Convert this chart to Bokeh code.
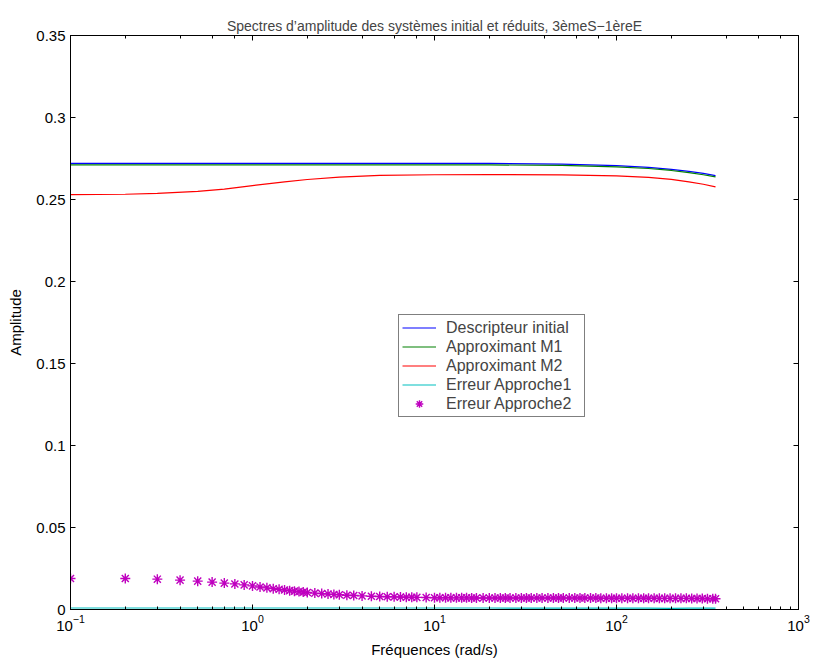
from bokeh.plotting import figure
from bokeh.models import (LinearAxis, LogAxis, FixedTicker, Legend, LegendItem,
                          Range1d, LogTicker)
from bokeh.embed import file_html
from bokeh.resources import INLINE

FONT = "Liberation Sans"

# Amplitude spectra sampled at a few frequencies (rad/s)
freq = [0.1, 0.2, 0.3, 0.5, 0.7, 1.0, 1.5, 2, 3, 5, 10, 20, 50, 100, 150, 200, 250, 300, 350]
descripteur = [0.2720, 0.2720, 0.2720, 0.2720, 0.2720, 0.2720, 0.2720, 0.2720, 0.2720, 0.2720,
               0.2720, 0.2720, 0.2716, 0.2707, 0.2696, 0.2684, 0.2672, 0.2659, 0.2646]
approx_m1 = [0.2711, 0.2711, 0.2711, 0.2711, 0.2711, 0.2711, 0.2711, 0.2711, 0.2711, 0.2711,
             0.2711, 0.2711, 0.2708, 0.2699, 0.2689, 0.2677, 0.2664, 0.2651, 0.2638]
approx_m2 = [0.2530, 0.2532, 0.2537, 0.2550, 0.2563, 0.2585, 0.2608, 0.2622, 0.2637, 0.2647,
             0.2651, 0.2652, 0.2650, 0.2644, 0.2635, 0.2623, 0.2608, 0.2593, 0.2577]
erreur1 = [0.0009, 0.0009, 0.0009, 0.0009, 0.0009, 0.0009, 0.0009, 0.0009, 0.0009, 0.0009,
           0.0009, 0.0009, 0.0008, 0.0008, 0.0008, 0.0007, 0.0008, 0.0008, 0.0008]

# Error of the second approach, shown as markers
err2_freq = [0.1, 0.2, 0.3, 0.4, 0.5, 0.6, 0.7, 0.8, 0.9, 1.0,
             1.1, 1.2, 1.3, 1.4, 1.5, 1.6, 1.7, 1.8, 1.9, 2.0,
             2.2, 2.4, 2.6, 2.8, 3.0, 3.3, 3.6, 4.0, 4.5, 5.0, 5.5, 6.0, 6.5, 7.0, 7.5, 8.0, 9.0,
             10, 10.7, 11.5, 12.3, 13.2, 14.1, 15, 16, 17, 18.5, 20, 21.5, 23, 24.5, 26, 28,
             30, 32, 34, 36.5, 39, 42, 45, 48, 51, 55, 59, 63, 67, 72, 77, 82, 88, 94,
             100, 107, 115, 123, 132, 141, 150, 161, 172, 184, 197, 211, 226, 242, 259,
             277, 296, 316, 338, 350]
erreur2 = [0.0189, 0.0189, 0.0185, 0.0179, 0.0173, 0.0167, 0.0161, 0.0156, 0.0150, 0.0144,
           0.0137, 0.0132, 0.0127, 0.0123, 0.0119, 0.0115, 0.0112, 0.0109, 0.0106, 0.0104,
           0.0100, 0.0097, 0.0094, 0.0092, 0.0090, 0.0087, 0.0085, 0.0083, 0.0081, 0.0079,
           0.0078, 0.0077, 0.0076, 0.0075, 0.0075, 0.0074, 0.0073,
           0.0072, 0.0072, 0.0072, 0.0071, 0.0071, 0.0071, 0.0071, 0.0070, 0.0070, 0.0070,
           0.0070, 0.0070, 0.0070, 0.0070, 0.0070, 0.0070,
           0.0070, 0.0070, 0.0070, 0.0070, 0.0070, 0.0070, 0.0070, 0.0070, 0.0070, 0.0070,
           0.0070, 0.0070, 0.0070, 0.0070, 0.0070, 0.0069, 0.0069, 0.0069,
           0.0069, 0.0069, 0.0069, 0.0069, 0.0069, 0.0069, 0.0069, 0.0069, 0.0068, 0.0068,
           0.0068, 0.0068, 0.0068, 0.0068, 0.0067,
           0.0067, 0.0067, 0.0066, 0.0066, 0.0066]

y_ticks = [0, 0.05, 0.1, 0.15, 0.2, 0.25, 0.3, 0.35]
y_tick_labels = ["0", "0.05", "0.1", "0.15", "0.2", "0.25", "0.3", "0.35"]

p = figure(width=813, height=662, x_axis_type="log",
           x_range=Range1d(0.1, 1000), y_range=Range1d(0, 0.35),
           frame_width=728, frame_height=574,
           min_border_left=70, min_border_right=15, min_border_top=35, min_border_bottom=53,
           output_backend="svg", toolbar_location=None,
           title="Spectres d\u2019amplitude des syst\u00e8mes initial et r\u00e9duits, 3\u00e8meS\u22121\u00e8reE")

p.title.text_font = FONT
p.title.text_font_size = "14px"
p.title.text_font_style = "normal"
p.title.align = "center"
p.title.standoff = 4

p.background_fill_color = "white"
p.border_fill_color = "white"
p.outline_line_color = "black"
p.outline_line_width = 1
p.xgrid.visible = False
p.ygrid.visible = False

# Bottom / left axes
xa = p.xaxis[0]
xa.axis_label = "Fr\u00e9quences (rad/s)"
ya = p.yaxis[0]
ya.axis_label = "Amplitude"
ya.ticker = FixedTicker(ticks=y_ticks)
ya.major_label_overrides = {t: s for t, s in zip(y_ticks, y_tick_labels)}

for ax in (xa, ya):
    ax.axis_line_color = "black"
    ax.major_tick_in = 5
    ax.major_tick_out = 0
    ax.minor_tick_in = 3
    ax.minor_tick_out = 0
    ax.major_label_text_font = FONT
    ax.major_label_text_font_size = "15px"
    ax.major_label_text_color = "black"
    ax.axis_label_text_font = FONT
    ax.axis_label_text_font_size = "15px"
    ax.axis_label_text_font_style = "normal"
    ax.axis_label_text_color = "black"
ya.minor_tick_line_color = None
xa.axis_label_standoff = 7
ya.axis_label_standoff = 9

# Mirrored axes on top and right (box style), ticks only, labels hidden
top = LogAxis(ticker=LogTicker(), major_label_text_font_size="1px",
              major_label_text_alpha=0, major_label_standoff=0,
              major_tick_in=5, major_tick_out=0, minor_tick_in=3, minor_tick_out=0,
              axis_line_color="black")
right = LinearAxis(ticker=FixedTicker(ticks=y_ticks), major_label_text_font_size="1px",
                   major_label_text_alpha=0, major_label_standoff=0,
                   major_tick_in=5, major_tick_out=0, minor_tick_line_color=None,
                   axis_line_color="black")
p.add_layout(top, "above")
p.add_layout(right, "right")

r_desc = p.line(freq, descripteur, line_color="#0000ff", line_width=1.2)
r_m1 = p.line(freq, approx_m1, line_color="#008000", line_width=1.2)
r_m2 = p.line(freq, approx_m2, line_color="#ff0000", line_width=1.2)
r_e1 = p.line(freq, erreur1, line_color="#00bfbf", line_width=1.2)
r_e2 = p.scatter(err2_freq, erreur2, marker="asterisk", size=10,
                 line_color="#bf00bf", line_width=1.4)

legend = Legend(items=[
    LegendItem(label="Descripteur initial", renderers=[r_desc]),
    LegendItem(label="Approximant M1", renderers=[r_m1]),
    LegendItem(label="Approximant M2", renderers=[r_m2]),
    LegendItem(label="Erreur Approche1", renderers=[r_e1]),
    LegendItem(label="Erreur Approche2", renderers=[r_e2]),
], location=(328, 192))
legend.label_text_font = FONT
legend.label_text_font_size = "16px"
legend.label_height = 19
legend.label_width = 135
legend.label_standoff = 10
legend.glyph_height = 19
legend.glyph_width = 34
legend.spacing = 0
legend.padding = 3
legend.margin = 0
legend.border_line_color = "black"
legend.border_line_width = 1
legend.background_fill_alpha = 1
p.add_layout(legend, "center")

open("out.html", "w").write(file_html(p, INLINE))
